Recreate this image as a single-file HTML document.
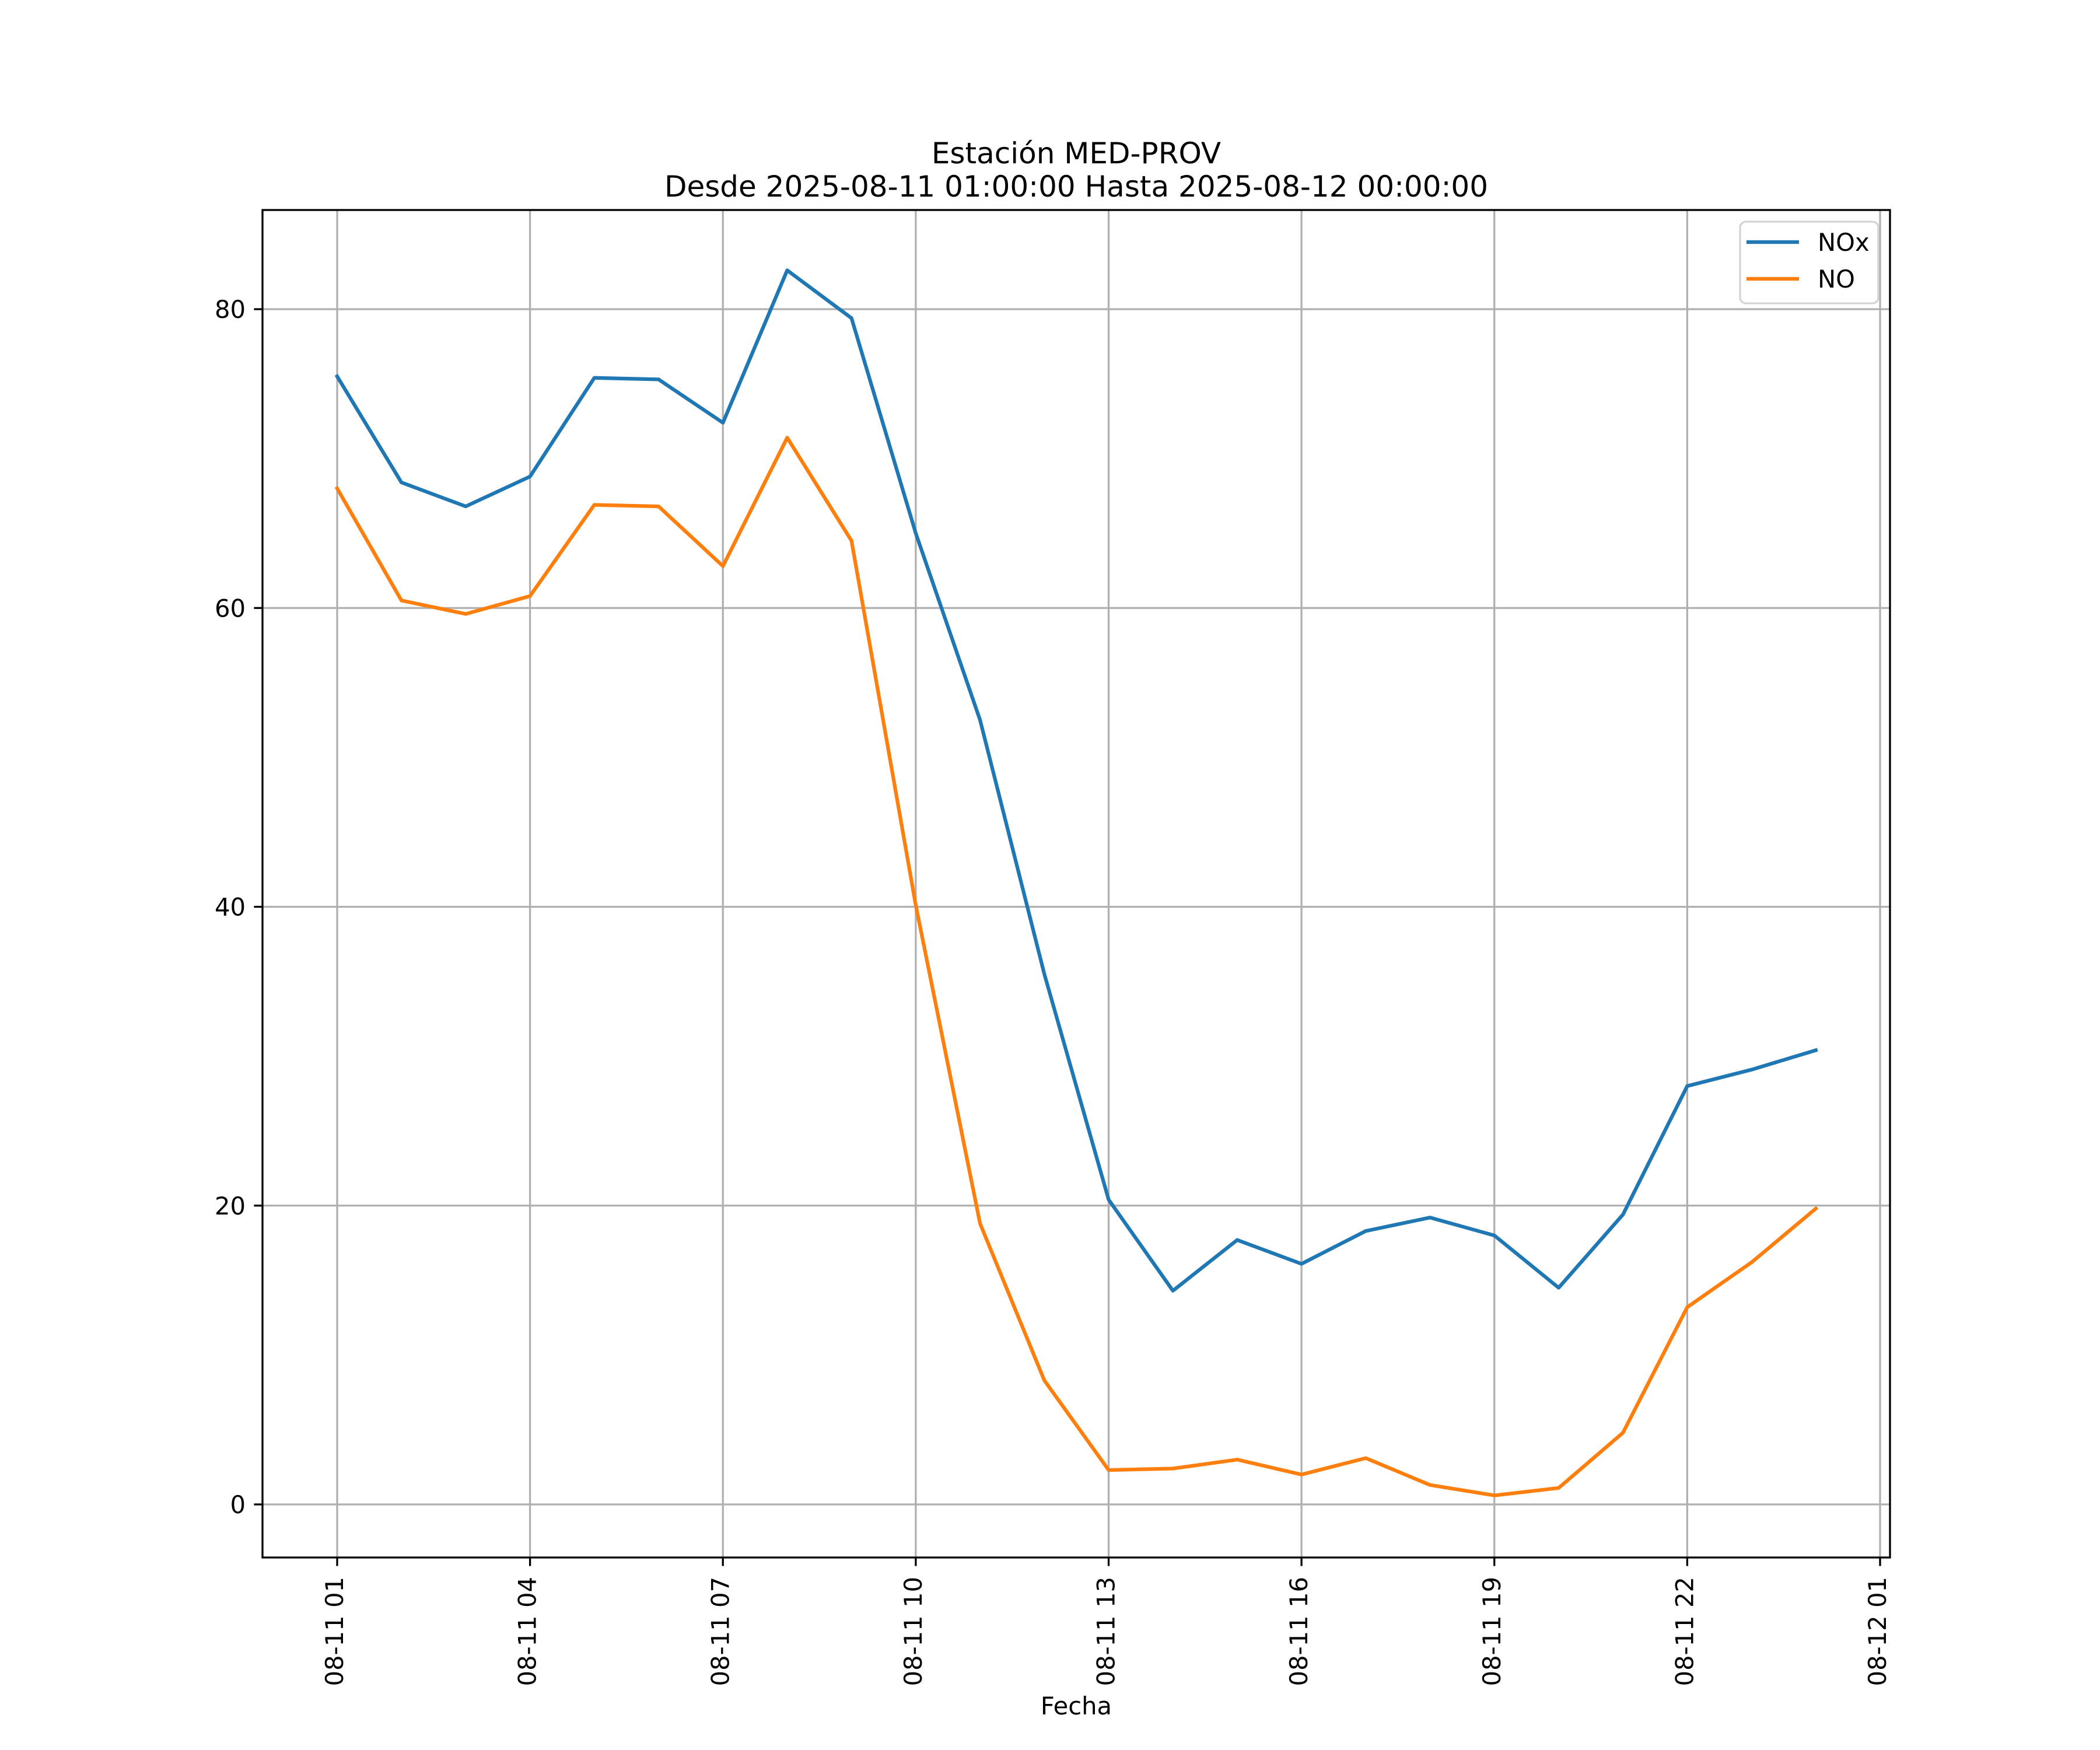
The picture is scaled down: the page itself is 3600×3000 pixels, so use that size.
<!DOCTYPE html>
<html><head><meta charset="utf-8"><style>
html,body{margin:0;padding:0;background:#fff;}
svg{display:block;font-family:"DejaVu Sans","Liberation Sans",sans-serif;}
</style></head><body>
<svg id="chart" width="3600" height="3000" viewBox="0 0 3600 3000" xmlns="http://www.w3.org/2000/svg">
<rect width="3600" height="3000" fill="#fff"/>
<text x="1845" y="280" font-size="50" text-anchor="middle">Estación MED-PROV</text>
<text x="1845" y="337" font-size="50" text-anchor="middle">Desde 2025-08-11 01:00:00 Hasta 2025-08-12 00:00:00</text>
<g id="grid"></g>
<g id="series"></g>
<rect x="450" y="360" width="2790" height="2310" fill="none" stroke="#000" stroke-width="3.3"/>
<g id="ticks"></g>
<text x="1845" y="2939" font-size="41.7" text-anchor="middle">Fecha</text>
<g>
<rect x="2983" y="380" width="237" height="140" rx="10" fill="#fff" fill-opacity="0.8" stroke="#d4d4d4" stroke-width="3.3"/>
<line x1="2994" y1="415" x2="3084" y2="415" stroke="#1f77b4" stroke-width="6.25"/>
<text x="3116" y="430" font-size="41.7">NOx</text>
<line x1="2994" y1="478" x2="3084" y2="478" stroke="#ff7f0e" stroke-width="6.25"/>
<text x="3116" y="493" font-size="41.7">NO</text>
</g>
</svg>
<script>
const hours = [1,2,3,4,5,6,7,8,9,10,11,12,13,14,15,16,17,18,19,20,21,22,23,24];
const noxValues = [75.5,68.4,66.8,68.8,75.4,75.3,72.4,82.6,79.4,65.0,52.5,35.5,20.4,14.3,17.7,16.1,18.3,19.2,18.0,14.5,19.4,28.0,29.1,30.4];
const noValues = [68.0,60.5,59.6,60.8,66.9,66.8,62.8,71.4,64.5,40.1,18.8,8.3,2.3,2.4,3.0,2.0,3.1,1.3,0.6,1.1,4.8,13.2,16.2,19.8];
const xTickHours = [1,4,7,10,13,16,19,22,25];
const xTickLabels = ["08-11 01","08-11 04","08-11 07","08-11 10","08-11 13","08-11 16","08-11 19","08-11 22","08-12 01"];
const yTicks = [0,20,40,60,80];

const NS = "http://www.w3.org/2000/svg";
const L=450,R=3240,T=360,B=2670;
function xs(h){return 578 + (h-1)*(3223-578)/24;}
function ys(v){return 2579 - v*(2579-530)/80;}
function mk(tag, attrs, parent){const e=document.createElementNS(NS,tag);for(const k in attrs)e.setAttribute(k,attrs[k]);parent.appendChild(e);return e;}
const grid=document.getElementById('grid'), ticks=document.getElementById('ticks'), series=document.getElementById('series');

xTickHours.forEach((h,i)=>{
  const x=xs(h);
  const g=mk('line',{x1:x,y1:T,x2:x,y2:B,stroke:'#b0b0b0','stroke-width':3.3},grid);
  
  
  const t=mk('line',{x1:x,y1:B,x2:x,y2:B+14.6,stroke:'#000','stroke-width':3.3},ticks);
  
  
  const lb=mk('text',{x:0,y:0,'font-size':41.7,'text-anchor':'end',transform:`translate(${x+10},2703) rotate(-90)`},ticks);
  lb.textContent=xTickLabels[i];
  
  
});
yTicks.forEach(v=>{
  const y=ys(v);
  const g=mk('line',{x1:L,y1:y,x2:R,y2:y,stroke:'#b0b0b0','stroke-width':3.3},grid);
  
  
  const t=mk('line',{x1:L-14.6,y1:y,x2:L,y2:y,stroke:'#000','stroke-width':3.3},ticks);
  
  
  const lb=mk('text',{x:L-29,y:y+15,'font-size':41.7,'text-anchor':'end'},ticks);
  lb.textContent=String(v);
  
  
});
function line(vals,color,name){
  const pts=vals.map((v,i)=>xs(hours[i]).toFixed(1)+','+ys(v).toFixed(1)).join(' ');
  const p=mk('polyline',{points:pts,fill:'none',stroke:color,'stroke-width':6.25,'stroke-linejoin':'round','stroke-linecap':'square'},series);
  
  
}
line(noxValues,'#1f77b4','nox-line');
line(noValues,'#ff7f0e','no-line');
</script>
</body></html>
